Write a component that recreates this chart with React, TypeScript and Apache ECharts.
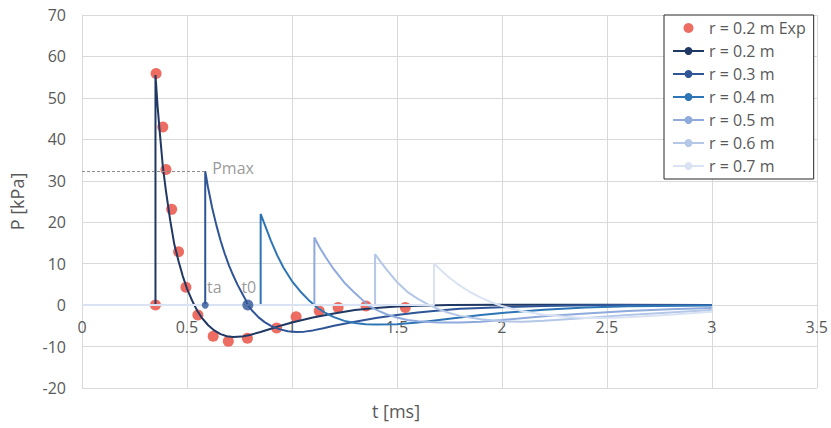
import React, { useEffect, useRef } from "react";
import * as echarts from "echarts";

const FONT = "'Open Sans', 'Noto Sans', sans-serif";

// experimental points [t ms, P kPa]
const expR02: [number, number][] = [
  [0.35, 0], [0.353, 55.9], [0.385, 43.0], [0.40, 32.7], [0.427, 23.1], [0.46, 12.9],
  [0.495, 4.3], [0.552, -2.4], [0.625, -7.5], [0.697, -8.7], [0.788, -8.0], [0.927, -5.5],
  [1.02, -2.8], [1.13, -1.45], [1.22, -0.56], [1.353, -0.2], [1.54, -0.56],
];

const simR02: [number, number][] = [
  [0, 0], [0.35, 0], [0.35, 55.5], [0.36, 48], [0.37, 42], [0.385, 33.5], [0.40, 27.5],
  [0.42, 20.5], [0.44, 14.6], [0.46, 10.6], [0.48, 7], [0.50, 4], [0.52, 1.6], [0.535, 0],
  [0.55, -1.4], [0.57, -3], [0.60, -4.8], [0.63, -6.1], [0.66, -7.0], [0.69, -7.5],
  [0.72, -7.7], [0.76, -7.6], [0.80, -7.2], [0.85, -6.5], [0.90, -5.7], [0.95, -4.9],
  [1.0, -4.2], [1.1, -3.0], [1.2, -2.0], [1.3, -1.2], [1.4, -0.7], [1.5, -0.35],
  [1.6, -0.15], [1.75, 0], [2.0, 0.1], [2.5, 0.1], [3.0, 0],
];

const simR03: [number, number][] = [
  [0, 0], [0.587, 0], [0.587, 32.3], [0.60, 28.5], [0.62, 23.5], [0.64, 19.3], [0.66, 15.6],
  [0.68, 12.4], [0.70, 9.6], [0.72, 7.2], [0.74, 5.0], [0.76, 3.1], [0.78, 1.2], [0.79, 0],
  [0.81, -1.3], [0.84, -2.9], [0.87, -4.1], [0.90, -5.0], [0.94, -5.8], [0.98, -6.3],
  [1.02, -6.5], [1.06, -6.4], [1.10, -6.1], [1.15, -5.6], [1.2, -5.0], [1.3, -4.0],
  [1.4, -3.1], [1.5, -2.4], [1.6, -1.8], [1.7, -1.3], [1.8, -0.9], [2.0, -0.5],
  [2.2, -0.2], [2.5, 0], [3.0, 0.05],
];

const simR04: [number, number][] = [
  [0, 0], [0.851, 0], [0.851, 22], [0.87, 19.5], [0.90, 15.5], [0.93, 12], [0.96, 9],
  [1.0, 5.8], [1.04, 3.3], [1.08, 1.2], [1.10, 0.3], [1.12, -0.6], [1.16, -1.9],
  [1.2, -2.9], [1.25, -3.8], [1.3, -4.3], [1.35, -4.6], [1.4, -4.7], [1.5, -4.6],
  [1.6, -4.2], [1.7, -3.6], [1.8, -3.0], [1.9, -2.4], [2.0, -1.9], [2.2, -1.1],
  [2.4, -0.6], [2.6, -0.3], [3.0, -0.1],
];

const simR05: [number, number][] = [
  [0, 0], [1.107, 0], [1.107, 16.3], [1.13, 14.1], [1.16, 11.6], [1.2, 8.6], [1.25, 5.4],
  [1.3, 2.9], [1.35, 0.6], [1.36, 0], [1.40, -1.1], [1.45, -2.2], [1.5, -3.0],
  [1.55, -3.6], [1.6, -3.9], [1.7, -4.2], [1.8, -4.2], [1.9, -4.0], [2.0, -3.6],
  [2.2, -2.7], [2.4, -2.0], [2.6, -1.4], [2.8, -1.0], [3.0, -0.7],
];

const simR06: [number, number][] = [
  [0, 0], [1.396, 0], [1.396, 12.3], [1.42, 10.6], [1.45, 8.6], [1.5, 5.6], [1.55, 3.2],
  [1.6, 1.5], [1.65, 0.1], [1.7, -1.0], [1.75, -1.9], [1.8, -2.6], [1.9, -3.4],
  [2.0, -3.9], [2.1, -4.0], [2.2, -3.8], [2.4, -3.1], [2.6, -2.4], [2.8, -1.8], [3.0, -1.2],
];

const simR07: [number, number][] = [
  [0, 0], [1.677, 0], [1.677, 10.1], [1.70, 8.9], [1.75, 6.6], [1.8, 4.7], [1.85, 3.1],
  [1.9, 1.8], [1.95, 0.7], [2.0, -0.2], [2.05, -0.9], [2.1, -1.5], [2.2, -2.3],
  [2.3, -2.8], [2.4, -3.1], [2.5, -3.1], [2.6, -2.9], [2.8, -2.3], [3.0, -1.6],
];

const seriesNames = ["r = 0.2 m", "r = 0.3 m", "r = 0.4 m", "r = 0.5 m", "r = 0.6 m", "r = 0.7 m"];
const seriesColors = ["#1F3864", "#2F5597", "#2E75B6", "#8FAADC", "#B4C7E7", "#DAE3F3"];
const simData = [simR02, simR03, simR04, simR05, simR06, simR07];
const expName = "r = 0.2 m Exp";

// annotation values for r = 0.3 m
const taT = 0.587;
const t0T = 0.79;
const pMax = 32.3;

export default function App() {
  const ref = useRef<HTMLDivElement>(null);
  useEffect(() => {
    const chart = echarts.init(ref.current!, null, { renderer: "svg" });
    const gray = "#595959";
    chart.setOption({
      animation: false,
      textStyle: { fontFamily: FONT },
      grid: { left: 80, top: 15, width: 739, height: 373, containLabel: false },
      xAxis: {
        type: "value",
        min: 0,
        max: 3.5,
        interval: 0.5,
        axisLine: { onZero: true, lineStyle: { color: "#D9D9D9", width: 1 } },
        axisTick: { show: false },
        // labels sit just under the P = 0 line, as in the reference
        axisLabel: { color: gray, fontSize: 16, margin: -69, fontFamily: FONT },
        splitLine: { show: true, lineStyle: { color: "#D9D9D9", width: 1 } },
      },
      yAxis: {
        type: "value",
        min: -20,
        max: 70,
        interval: 10,
        name: "P [kPa]",
        nameLocation: "middle",
        nameGap: 56,
        nameRotate: 90,
        nameTextStyle: { color: gray, fontSize: 18, fontFamily: FONT },
        axisLine: { show: true, lineStyle: { color: "#D9D9D9", width: 1 } },
        axisTick: { show: false },
        axisLabel: { color: gray, fontSize: 16, margin: 16, fontFamily: FONT },
        splitLine: { show: true, lineStyle: { color: "#D9D9D9", width: 1 } },
      },
      legend: {
        orient: "vertical",
        left: 664,
        top: 15,
        padding: [5, 8, 5, 8],
        itemGap: 7,
        itemWidth: 31,
        itemHeight: 10,
        backgroundColor: "#FFFFFF",
        borderColor: "#262626",
        borderWidth: 1,
        borderRadius: 0,
        textStyle: { color: gray, fontSize: 16, lineHeight: 15, fontFamily: FONT },
        data: [expName, ...seriesNames],
      },
      graphic: [
        {
          type: "text",
          x: 396,
          y: 411,
          style: {
            text: "t [ms]",
            fill: gray,
            fontSize: 18,
            fontFamily: FONT,
            align: "center",
            verticalAlign: "middle",
          },
        },
      ],
      series: [
        {
          name: expName,
          type: "scatter",
          data: expR02,
          symbol: "circle",
          symbolSize: 11,
          itemStyle: { color: "#E8483C" },
          z: 2,
        },
        ...simData.map((d, i) => ({
          name: seriesNames[i],
          type: "line",
          data: d,
          symbol: "none",
          showSymbol: false,
          smooth: false,
          lineStyle: { color: seriesColors[i], width: 2 },
          itemStyle: { color: seriesColors[i] },
          z: 3,
        })),
        {
          name: "_annot",
          type: "scatter",
          z: 5,
          itemStyle: { color: "#2F5597" },
          label: { show: true, color: "#7F7F7F", fontSize: 16, fontFamily: FONT },
          data: [
            {
              value: [taT, 0],
              symbolSize: 7,
              label: { show: true, formatter: "ta", position: "top", offset: [9, -2] },
            },
            {
              value: [t0T, 0],
              symbolSize: 11,
              label: { show: true, formatter: "t0", position: "top", offset: [1, 0] },
            },
            {
              value: [taT, pMax],
              symbolSize: 0,
              label: { show: true, formatter: "Pmax", position: "right", distance: 7, offset: [0, -3] },
            },
          ],
          markLine: {
            silent: true,
            symbol: ["none", "none"],
            label: { show: false },
            lineStyle: { color: "#8C8C8C", width: 1, type: [3, 2] },
            data: [[{ coord: [0, pMax] }, { coord: [taT, pMax] }]],
          },
        },
      ],
    });
    return () => chart.dispose();
  }, []);
  return (
    <div
      ref={ref}
      style={{ position: "fixed", left: 0, top: 0, width: 831, height: 428, background: "#fff" }}
    />
  );
}
